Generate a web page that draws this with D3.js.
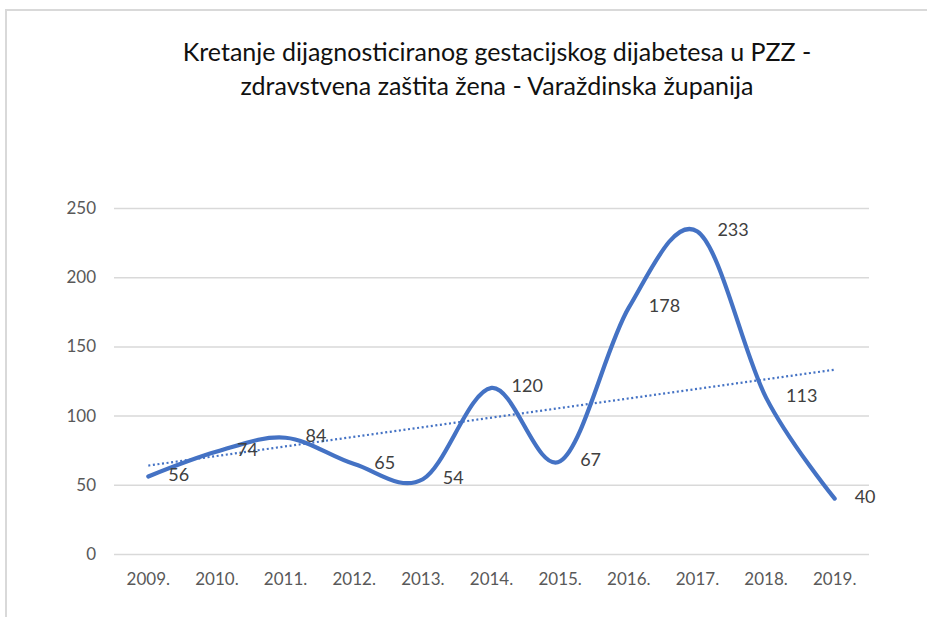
<!DOCTYPE html>
<html>
<head>
<meta charset="utf-8">
<script src="https://cdn.jsdelivr.net/npm/d3@7"></script>
<style>
  body { margin: 0; background: #fff; }
  svg { display: block; }
</style>
</head>
<body>
<div id="chart"></div>
<script>
var years = ["2009.", "2010.", "2011.", "2012.", "2013.", "2014.", "2015.", "2016.", "2017.", "2018.", "2019."];
var values = [56, 74, 84, 65, 54, 120, 67, 178, 233, 113, 40];
var yTicks = [0, 50, 100, 150, 200, 250];
var titleLines = ["Kretanje dijagnosticiranog gestacijskog dijabetesa u PZZ -",
                  "zdravstvena zaštita žena - Varaždinska županija"];

var width = 927, height = 617;
var font = "Lato, 'Open Sans', sans-serif";

var svg = d3.select("#chart").append("svg")
    .attr("width", width)
    .attr("height", height);

// chart frame
svg.append("rect")
    .attr("x", 6).attr("y", 10)
    .attr("width", width + 20).attr("height", height + 20)
    .attr("fill", "none")
    .attr("stroke", "#d9d9d9")
    .attr("stroke-width", 2);

var x = d3.scaleBand().domain(years).range([114, 869]);
var y = d3.scaleLinear().domain([0, 250]).range([554, 208]);

// title
svg.append("g").selectAll("text")
    .data(titleLines).enter()
    .append("text")
    .attr("x", 497)
    .attr("y", function(d, i) { return 55 + i * 34; })
    .attr("text-anchor", "middle")
    .attr("dominant-baseline", "middle")
    .style("font-family", font)
    .style("font-size", "25px")
    .style("fill", "#111")
    .text(function(d) { return d; });

// gridlines
var yAxis = d3.axisLeft(y).tickValues(yTicks).tickSize(-(869 - 114)).tickPadding(18);
var gy = svg.append("g").attr("transform", "translate(114,0)").call(yAxis);
gy.select(".domain").remove();
gy.selectAll(".tick line").attr("stroke", "#d9d9d9").attr("stroke-width", 1.5);
gy.selectAll(".tick text")
    .style("font-family", font).style("font-size", "17px").style("fill", "#595959");

var xAxis = d3.axisBottom(x).tickSize(0).tickPadding(19);
var gx = svg.append("g").attr("transform", "translate(0,554)").call(xAxis);
gx.select(".domain").remove();
gx.selectAll(".tick text")
    .style("font-family", font).style("font-size", "17px").style("fill", "#595959");

// linear trend line computed from the data
var n = values.length;
var mx = d3.mean(d3.range(n)), my = d3.mean(values);
var sxy = d3.sum(values, function(v, i) { return (i - mx) * (v - my); });
var sxx = d3.sum(d3.range(n), function(i) { return (i - mx) * (i - mx); });
var slope = sxy / sxx, icpt = my - slope * mx;

var cx = function(d, i) { return x(years[i]) + x.bandwidth() / 2; };

svg.append("path")
    .datum([0, n - 1])
    .attr("d", d3.line()
        .x(function(i) { return x(years[i]) + x.bandwidth() / 2; })
        .y(function(i) { return y(icpt + slope * i); }))
    .attr("fill", "none")
    .attr("stroke", "#4472c4")
    .attr("stroke-width", 2.2)
    .attr("stroke-dasharray", "2,2.6");

// smoothed series line
svg.append("path")
    .datum(values)
    .attr("d", d3.line()
        .x(cx)
        .y(function(d) { return y(d); })
        .curve(d3.curveCardinal.tension(0)))
    .attr("fill", "none")
    .attr("stroke", "#4472c4")
    .attr("stroke-width", 4.2)
    .attr("stroke-linecap", "round");

// data labels (right of point)
svg.append("g").selectAll("text")
    .data(values).enter()
    .append("text")
    .attr("x", function(d, i) { return cx(d, i) + 20; })
    .attr("y", function(d) { return y(d); })
    .attr("dominant-baseline", "middle")
    .style("font-family", font)
    .style("font-size", "18px")
    .style("fill", "#404040")
    .text(function(d) { return d; });
</script>
</body>
</html>
